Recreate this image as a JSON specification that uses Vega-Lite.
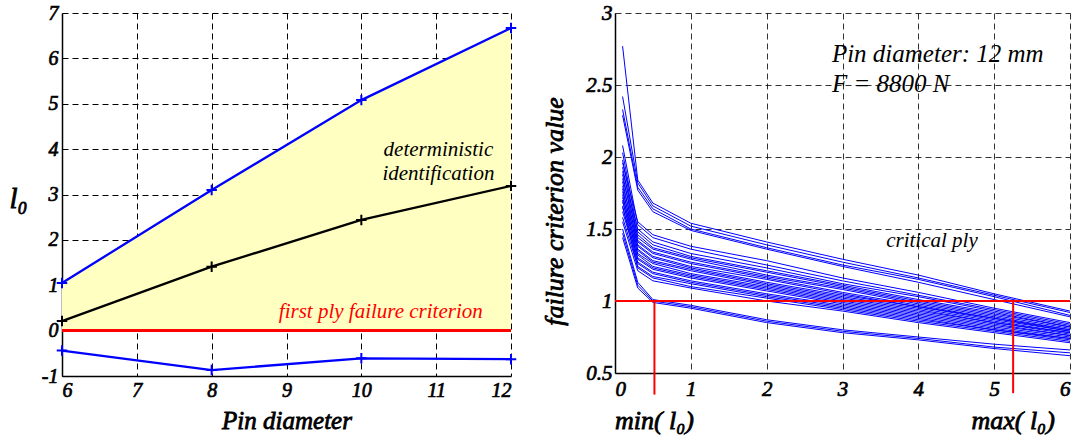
{
  "$schema": "https://vega.github.io/schema/vega-lite/v6.json",
  "background": "white",
  "padding": {"left": 8, "top": 2, "right": 0, "bottom": 3},
  "spacing": 20,
  "config": {
    "view": {"stroke": null},
    "font": "Liberation Serif",
    "style": {
      "guide-label": {"stroke": "black", "strokeWidth": 0.7},
      "guide-title": {"stroke": "black", "strokeWidth": 0.8}
    },
    "axis": {
      "domainColor": "black", "domainWidth": 1.5, "gridColor": "black", "gridDash": [6, 4], "gridWidth": 1,
      "ticks": false, "labelColor": "black", "titleColor": "black",
      "labelFont": "Liberation Serif", "titleFont": "Liberation Serif", "labelFontStyle": "italic", "titleFontStyle": "italic",
      "labelFontWeight": "normal", "titleFontWeight": "normal"
    }
  },
  "hconcat": [
    {
      "width": 449, "height": 363,
      "data": {"values": [
        {"s": "upper", "d": 6, "v": 1.05}, {"s": "upper", "d": 8, "v": 3.1}, {"s": "upper", "d": 10, "v": 5.08}, {"s": "upper", "d": 12, "v": 6.67},
        {"s": "mid", "d": 6, "v": 0.21}, {"s": "mid", "d": 8, "v": 1.41}, {"s": "mid", "d": 10, "v": 2.44}, {"s": "mid", "d": 12, "v": 3.19},
        {"s": "lower", "d": 6, "v": -0.44}, {"s": "lower", "d": 8, "v": -0.87}, {"s": "lower", "d": 10, "v": -0.61}, {"s": "lower", "d": 12, "v": -0.63}
      ]},
      "encoding": {
        "x": {"field": "d", "type": "quantitative", "scale": {"domain": [6, 12], "nice": false, "zero": false},
          "axis": {"values": [6, 7, 8, 9, 10, 11, 12], "title": "Pin diameter", "labelFontSize": 20, "labelPadding": 4, "titleFontSize": 25, "titlePadding": 8}},
        "y": {"field": "v", "type": "quantitative", "scale": {"domain": [-1, 7], "nice": false, "zero": false},
          "axis": {"values": [-1, 0, 1, 2, 3, 4, 5, 6, 7], "labelExpr": "datum.value < 0 ? '-' + abs(datum.value) : datum.label", "title": "l₀", "labelFontSize": 20, "labelPadding": 4, "titleFontSize": 29, "titleAngle": 0, "titleAlign": "center", "titleBaseline": "middle", "titleX": -44, "titleY": 185}}
      },
      "layer": [
        {"transform": [{"filter": "datum.s === 'upper'"}], "mark": {"type": "area", "color": "#FFFFC2", "opacity": 1}, "encoding": {"y2": {"datum": 0}}},
        {"mark": {"type": "rule", "color": "#FF0000", "strokeWidth": 2}, "encoding": {"x": null, "y": {"datum": 0}}},
        {"mark": {"type": "line", "strokeWidth": 2.3}, "encoding": {"detail": {"field": "s"}, "color": {"field": "s", "type": "nominal", "scale": {"domain": ["upper", "mid", "lower"], "range": ["#0000FF", "#000000", "#0000FF"]}, "legend": null}}},
        {"mark": {"type": "point", "shape": "M-1,0L1,0M0,-1L0,1", "size": 110, "strokeWidth": 2, "filled": false, "opacity": 1}, "encoding": {"color": {"field": "s", "type": "nominal", "scale": {"domain": ["upper", "mid", "lower"], "range": ["#0000FF", "#000000", "#0000FF"]}, "legend": null}}},
        {"data": {"values": [{"d": 11.03, "v": 3.99, "t": "deterministic"}, {"d": 11.03, "v": 3.46, "t": "identification"}]},
          "mark": {"type": "text", "font": "Liberation Serif", "fontStyle": "italic", "fontSize": 21, "color": "black", "align": "center", "baseline": "middle"},
          "encoding": {"text": {"field": "t"}}},
        {"data": {"values": [{"d": 10.26, "v": 0.42, "t": "first ply failure criterion"}]},
          "mark": {"type": "text", "font": "Liberation Serif", "fontStyle": "italic", "fontSize": 21, "color": "#FF0000", "align": "center", "baseline": "middle"},
          "encoding": {"text": {"field": "t"}}}
      ]
    },
    {
      "width": 455, "height": 360,
      "data": {"values": [
        {"c":"T1","x":0.1,"y":2.77},{"c":"T1","x":0.3,"y":1.84},{"c":"T1","x":0.5,"y":1.68},{"c":"T1","x":1,"y":1.54},{"c":"T1","x":2,"y":1.41},{"c":"T1","x":3,"y":1.29},{"c":"T1","x":4,"y":1.18},{"c":"T1","x":5,"y":1.05},{"c":"T1","x":6,"y":0.93},
        {"c":"T2","x":0.1,"y":2.42},{"c":"T2","x":0.3,"y":1.82},{"c":"T2","x":0.5,"y":1.66},{"c":"T2","x":1,"y":1.52},{"c":"T2","x":2,"y":1.39},{"c":"T2","x":3,"y":1.27},{"c":"T2","x":4,"y":1.16},{"c":"T2","x":5,"y":1.04},{"c":"T2","x":6,"y":0.92},
        {"c":"T3","x":0.1,"y":2.33},{"c":"T3","x":0.3,"y":1.79},{"c":"T3","x":0.5,"y":1.64},{"c":"T3","x":1,"y":1.5},{"c":"T3","x":2,"y":1.37},{"c":"T3","x":3,"y":1.25},{"c":"T3","x":4,"y":1.15},{"c":"T3","x":5,"y":1.03},{"c":"T3","x":6,"y":0.9},
        {"c":"T4","x":0.1,"y":2.29},{"c":"T4","x":0.3,"y":1.77},{"c":"T4","x":0.5,"y":1.62},{"c":"T4","x":1,"y":1.49},{"c":"T4","x":2,"y":1.36},{"c":"T4","x":3,"y":1.24},{"c":"T4","x":4,"y":1.13},{"c":"T4","x":5,"y":1.01},{"c":"T4","x":6,"y":0.89},
        {"c":"M1","x":0.1,"y":1.96},{"c":"M1","x":0.3,"y":1.55},{"c":"M1","x":0.5,"y":1.46},{"c":"M1","x":1,"y":1.38},{"c":"M1","x":2,"y":1.28},{"c":"M1","x":3,"y":1.16},{"c":"M1","x":4,"y":1.06},{"c":"M1","x":5,"y":0.95},{"c":"M1","x":6,"y":0.85},
        {"c":"M2","x":0.1,"y":2.08},{"c":"M2","x":0.3,"y":1.53},{"c":"M2","x":0.5,"y":1.44},{"c":"M2","x":1,"y":1.36},{"c":"M2","x":2,"y":1.25},{"c":"M2","x":3,"y":1.14},{"c":"M2","x":4,"y":1.04},{"c":"M2","x":5,"y":0.94},{"c":"M2","x":6,"y":0.84},
        {"c":"M3","x":0.1,"y":1.9},{"c":"M3","x":0.3,"y":1.5},{"c":"M3","x":0.5,"y":1.41},{"c":"M3","x":1,"y":1.33},{"c":"M3","x":2,"y":1.23},{"c":"M3","x":3,"y":1.12},{"c":"M3","x":4,"y":1.03},{"c":"M3","x":5,"y":0.93},{"c":"M3","x":6,"y":0.83},
        {"c":"M4","x":0.1,"y":2.03},{"c":"M4","x":0.3,"y":1.48},{"c":"M4","x":0.5,"y":1.39},{"c":"M4","x":1,"y":1.31},{"c":"M4","x":2,"y":1.21},{"c":"M4","x":3,"y":1.11},{"c":"M4","x":4,"y":1.01},{"c":"M4","x":5,"y":0.92},{"c":"M4","x":6,"y":0.82},
        {"c":"M5","x":0.1,"y":1.85},{"c":"M5","x":0.3,"y":1.46},{"c":"M5","x":0.5,"y":1.37},{"c":"M5","x":1,"y":1.3},{"c":"M5","x":2,"y":1.2},{"c":"M5","x":3,"y":1.1},{"c":"M5","x":4,"y":1.0},{"c":"M5","x":5,"y":0.91},{"c":"M5","x":6,"y":0.82},
        {"c":"M6","x":0.1,"y":1.98},{"c":"M6","x":0.3,"y":1.44},{"c":"M6","x":0.5,"y":1.36},{"c":"M6","x":1,"y":1.29},{"c":"M6","x":2,"y":1.18},{"c":"M6","x":3,"y":1.09},{"c":"M6","x":4,"y":0.99},{"c":"M6","x":5,"y":0.9},{"c":"M6","x":6,"y":0.81},
        {"c":"M7","x":0.1,"y":1.8},{"c":"M7","x":0.3,"y":1.42},{"c":"M7","x":0.5,"y":1.34},{"c":"M7","x":1,"y":1.27},{"c":"M7","x":2,"y":1.17},{"c":"M7","x":3,"y":1.08},{"c":"M7","x":4,"y":0.98},{"c":"M7","x":5,"y":0.89},{"c":"M7","x":6,"y":0.8},
        {"c":"M8","x":0.1,"y":1.93},{"c":"M8","x":0.3,"y":1.41},{"c":"M8","x":0.5,"y":1.33},{"c":"M8","x":1,"y":1.26},{"c":"M8","x":2,"y":1.16},{"c":"M8","x":3,"y":1.06},{"c":"M8","x":4,"y":0.97},{"c":"M8","x":5,"y":0.88},{"c":"M8","x":6,"y":0.8},
        {"c":"M9","x":0.1,"y":1.76},{"c":"M9","x":0.3,"y":1.39},{"c":"M9","x":0.5,"y":1.31},{"c":"M9","x":1,"y":1.24},{"c":"M9","x":2,"y":1.15},{"c":"M9","x":3,"y":1.05},{"c":"M9","x":4,"y":0.96},{"c":"M9","x":5,"y":0.88},{"c":"M9","x":6,"y":0.79},
        {"c":"M10","x":0.1,"y":1.88},{"c":"M10","x":0.3,"y":1.38},{"c":"M10","x":0.5,"y":1.3},{"c":"M10","x":1,"y":1.23},{"c":"M10","x":2,"y":1.13},{"c":"M10","x":3,"y":1.04},{"c":"M10","x":4,"y":0.96},{"c":"M10","x":5,"y":0.87},{"c":"M10","x":6,"y":0.79},
        {"c":"M11","x":0.1,"y":1.72},{"c":"M11","x":0.3,"y":1.36},{"c":"M11","x":0.5,"y":1.28},{"c":"M11","x":1,"y":1.22},{"c":"M11","x":2,"y":1.12},{"c":"M11","x":3,"y":1.03},{"c":"M11","x":4,"y":0.95},{"c":"M11","x":5,"y":0.86},{"c":"M11","x":6,"y":0.78},
        {"c":"M12","x":0.1,"y":1.83},{"c":"M12","x":0.3,"y":1.35},{"c":"M12","x":0.5,"y":1.27},{"c":"M12","x":1,"y":1.21},{"c":"M12","x":2,"y":1.11},{"c":"M12","x":3,"y":1.02},{"c":"M12","x":4,"y":0.94},{"c":"M12","x":5,"y":0.85},{"c":"M12","x":6,"y":0.78},
        {"c":"M13","x":0.1,"y":1.69},{"c":"M13","x":0.3,"y":1.33},{"c":"M13","x":0.5,"y":1.26},{"c":"M13","x":1,"y":1.19},{"c":"M13","x":2,"y":1.1},{"c":"M13","x":3,"y":1.01},{"c":"M13","x":4,"y":0.93},{"c":"M13","x":5,"y":0.85},{"c":"M13","x":6,"y":0.77},
        {"c":"M14","x":0.1,"y":1.78},{"c":"M14","x":0.3,"y":1.32},{"c":"M14","x":0.5,"y":1.24},{"c":"M14","x":1,"y":1.18},{"c":"M14","x":2,"y":1.09},{"c":"M14","x":3,"y":1.0},{"c":"M14","x":4,"y":0.92},{"c":"M14","x":5,"y":0.84},{"c":"M14","x":6,"y":0.76},
        {"c":"M15","x":0.1,"y":1.65},{"c":"M15","x":0.3,"y":1.3},{"c":"M15","x":0.5,"y":1.23},{"c":"M15","x":1,"y":1.17},{"c":"M15","x":2,"y":1.08},{"c":"M15","x":3,"y":0.99},{"c":"M15","x":4,"y":0.91},{"c":"M15","x":5,"y":0.83},{"c":"M15","x":6,"y":0.76},
        {"c":"M16","x":0.1,"y":1.74},{"c":"M16","x":0.3,"y":1.29},{"c":"M16","x":0.5,"y":1.22},{"c":"M16","x":1,"y":1.16},{"c":"M16","x":2,"y":1.07},{"c":"M16","x":3,"y":0.98},{"c":"M16","x":4,"y":0.9},{"c":"M16","x":5,"y":0.82},{"c":"M16","x":6,"y":0.75},
        {"c":"M17","x":0.1,"y":1.62},{"c":"M17","x":0.3,"y":1.27},{"c":"M17","x":0.5,"y":1.2},{"c":"M17","x":1,"y":1.14},{"c":"M17","x":2,"y":1.05},{"c":"M17","x":3,"y":0.97},{"c":"M17","x":4,"y":0.89},{"c":"M17","x":5,"y":0.81},{"c":"M17","x":6,"y":0.74},
        {"c":"M18","x":0.1,"y":1.7},{"c":"M18","x":0.3,"y":1.26},{"c":"M18","x":0.5,"y":1.19},{"c":"M18","x":1,"y":1.13},{"c":"M18","x":2,"y":1.04},{"c":"M18","x":3,"y":0.96},{"c":"M18","x":4,"y":0.88},{"c":"M18","x":5,"y":0.8},{"c":"M18","x":6,"y":0.74},
        {"c":"M19","x":0.1,"y":1.58},{"c":"M19","x":0.3,"y":1.24},{"c":"M19","x":0.5,"y":1.17},{"c":"M19","x":1,"y":1.12},{"c":"M19","x":2,"y":1.03},{"c":"M19","x":3,"y":0.95},{"c":"M19","x":4,"y":0.87},{"c":"M19","x":5,"y":0.8},{"c":"M19","x":6,"y":0.73},
        {"c":"M20","x":0.1,"y":1.66},{"c":"M20","x":0.3,"y":1.23},{"c":"M20","x":0.5,"y":1.16},{"c":"M20","x":1,"y":1.1},{"c":"M20","x":2,"y":1.02},{"c":"M20","x":3,"y":0.94},{"c":"M20","x":4,"y":0.86},{"c":"M20","x":5,"y":0.79},{"c":"M20","x":6,"y":0.72},
        {"c":"M21","x":0.1,"y":1.55},{"c":"M21","x":0.3,"y":1.21},{"c":"M21","x":0.5,"y":1.14},{"c":"M21","x":1,"y":1.09},{"c":"M21","x":2,"y":1.0},{"c":"M21","x":3,"y":0.93},{"c":"M21","x":4,"y":0.85},{"c":"M21","x":5,"y":0.78},{"c":"M21","x":6,"y":0.71},
        {"c":"B1","x":0.1,"y":1.5},{"c":"B1","x":0.3,"y":1.13},{"c":"B1","x":0.5,"y":1.01},{"c":"B1","x":1,"y":0.97},{"c":"B1","x":2,"y":0.87},{"c":"B1","x":3,"y":0.8},{"c":"B1","x":4,"y":0.75},{"c":"B1","x":5,"y":0.7},{"c":"B1","x":6,"y":0.66},
        {"c":"B2","x":0.1,"y":1.47},{"c":"B2","x":0.3,"y":1.11},{"c":"B2","x":0.5,"y":1.0},{"c":"B2","x":1,"y":0.96},{"c":"B2","x":2,"y":0.86},{"c":"B2","x":3,"y":0.79},{"c":"B2","x":4,"y":0.74},{"c":"B2","x":5,"y":0.68},{"c":"B2","x":6,"y":0.64},
        {"c":"B3","x":0.1,"y":1.44},{"c":"B3","x":0.3,"y":1.09},{"c":"B3","x":0.5,"y":0.99},{"c":"B3","x":1,"y":0.95},{"c":"B3","x":2,"y":0.85},{"c":"B3","x":3,"y":0.78},{"c":"B3","x":4,"y":0.73},{"c":"B3","x":5,"y":0.67},{"c":"B3","x":6,"y":0.62}
      ]},
      "encoding": {
        "x": {"field": "x", "type": "quantitative", "scale": {"domain": [0, 6], "nice": false, "zero": false},
          "axis": {"values": [0, 1, 2, 3, 4, 5, 6], "title": null, "labelFontSize": 21, "labelPadding": 5, "gridOpacity": 0.8}},
        "y": {"field": "y", "type": "quantitative", "scale": {"domain": [0.5, 3], "nice": false, "zero": false},
          "axis": {"values": [0.5, 1, 1.5, 2, 2.5, 3], "format": "~g", "title": "failure criterion value", "labelFontSize": 21, "labelPadding": 3, "titleFontSize": 26, "titlePadding": 18, "titleY": 198, "gridOpacity": 0.8}}
      },
      "layer": [
        {"mark": {"type": "line", "strokeWidth": 1, "color": "#0000FF"}, "encoding": {"detail": {"field": "c"}}},
        {"mark": {"type": "rule", "color": "#FF0000", "strokeWidth": 2}, "encoding": {"x": null, "y": {"datum": 1}}},
        {"data": {"values": [{"x": 0.52, "y": 1, "y2": 0.35}, {"x": 5.25, "y": 1, "y2": 0.36}]},
          "mark": {"type": "rule", "color": "#FF0000", "strokeWidth": 2, "clip": false},
          "encoding": {"y2": {"field": "y2"}}},
        {"data": {"values": [{"x": 2.86, "y": 2.715, "t": "Pin diameter: 12 mm"}, {"x": 2.86, "y": 2.507, "t": "F = 8800 N"}]},
          "mark": {"type": "text", "font": "Liberation Serif", "fontStyle": "italic", "fontSize": 25, "color": "black", "align": "left", "baseline": "middle"},
          "encoding": {"text": {"field": "t"}}},
        {"data": {"values": [{"x": 4.18, "y": 1.42, "t": "critical ply"}]},
          "mark": {"type": "text", "font": "Liberation Serif", "fontStyle": "italic", "fontSize": 21, "color": "black", "align": "center", "baseline": "middle"},
          "encoding": {"text": {"field": "t"}}},
        {"data": {"values": [{"x": 0.52, "y": 0.17, "t": "min( l₀)"}, {"x": 5.25, "y": 0.17, "t": "max( l₀)"}]},
          "mark": {"type": "text", "font": "Liberation Serif", "fontStyle": "italic", "fontSize": 26, "color": "black", "stroke": "black", "strokeWidth": 0.8, "align": "center", "baseline": "middle"},
          "encoding": {"text": {"field": "t"}}}
      ]
    }
  ]
}
